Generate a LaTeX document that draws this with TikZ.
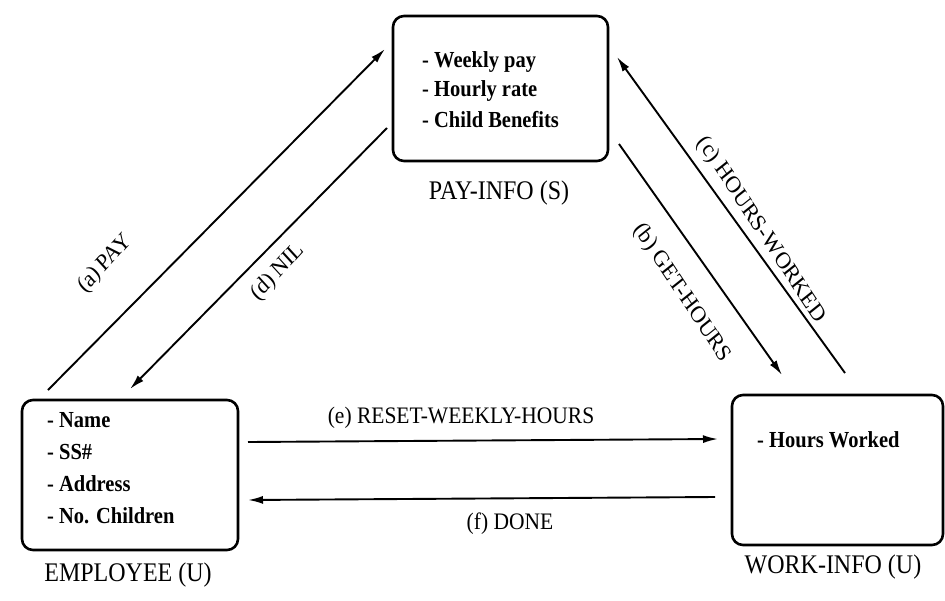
\documentclass[tikz,border=0pt]{standalone}
\usepackage{fontspec}
\setmainfont{Liberation Serif}
\usetikzlibrary{arrows.meta}
\begin{document}
\begin{tikzpicture}[x=1pt,y=-1pt,
  box/.style={draw,line width=2.6pt,rounded corners=11pt,inner sep=0pt},
  item/.style={anchor=west,inner sep=0pt,yscale=1.12,font=\fontsize{20.5}{24}\selectfont\bfseries},
  boxlabel/.style={inner sep=0pt,yscale=1.12,font=\fontsize{24}{28}\selectfont},
  arrlabel/.style={inner sep=0pt,yscale=1.1,font=\fontsize{21.5}{25}\selectfont},
  conn/.style={line width=1.9pt,-{Latex[length=15pt,width=8pt]}}]
\useasboundingbox (0,0) rectangle (945,600);
% boxes
\node[box,minimum width=215pt,minimum height=145pt] (pay) at (500.5,88.5) {};
\node[box,minimum width=216pt,minimum height=150pt] (emp) at (130,475) {};
\node[box,minimum width=211pt,minimum height=150pt] (work) at (837.5,470) {};
% box contents
\node[item] (p1) at (422,62) {- Weekly pay};
\node[item] (p2) at (422,91) {- Hourly rate};
\node[item] (p3) at (422,120) {- Child Benefits};
\node[item] (e1) at (47,420) {- Name};
\node[item] (e2) at (47,452) {- SS\#};
\node[item] (e3) at (47,484) {- Address};
\node[item] (e4) at (47,516) {- No. Children};
\node[item] (w1) at (757,440) {- Hours Worked};
% box labels
\node[boxlabel] (payl) at (499,193) {PAY-INFO (S)};
\node[boxlabel] (empl) at (128,575) {EMPLOYEE (U)};
\node[boxlabel] (workl) at (833,567) {WORK-INFO (U)};
% connector end points
\coordinate (a0) at (48,390);  \coordinate (a1) at (385,49);
\coordinate (d0) at (387,128); \coordinate (d1) at (130,389);
\coordinate (b0) at (619,144); \coordinate (b1) at (782,375);
\coordinate (c0) at (845,373); \coordinate (c1) at (617,57);
\coordinate (e0) at (248,442); \coordinate (e1x) at (718,439);
\coordinate (f0) at (715,497); \coordinate (f1) at (248,500);
% connectors
\draw[conn] (a0) -- (a1);
\draw[conn] (d0) -- (d1);
\draw[conn] (b0) -- (b1);
\draw[conn] (c0) -- (c1);
\draw[conn] (e0) -- (e1x);
\draw[conn] (f0) -- (f1);
% connector labels
\node[arrlabel,rotate=45] (la) at (105,264) {(a)\,PAY};
\node[arrlabel,rotate=45] (ld) at (278,272) {(d)\,NIL};
\node[arrlabel,rotate=-54] (lb) at (682,293) {(b) GET-HOURS};
\node[arrlabel,rotate=-54] (lc) at (761,230) {(c) HOURS-WORKED};
\node[arrlabel] (le) at (461,418) {(e) RESET-WEEKLY-HOURS};
\node[arrlabel] (lf) at (510,524) {(f) DONE};
\end{tikzpicture}
\end{document}
